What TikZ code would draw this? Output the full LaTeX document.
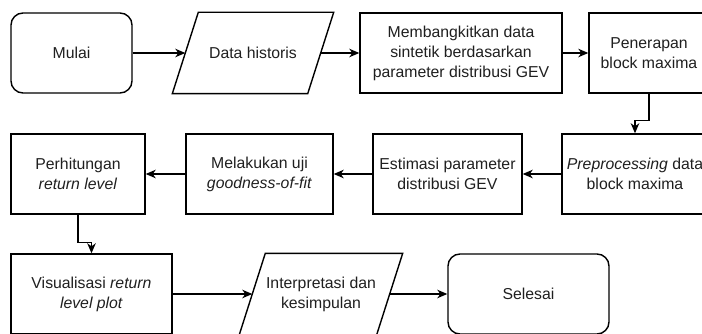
\documentclass[tikz,border=0pt]{standalone}
\usepackage{fontspec}
\setmainfont{Liberation Sans}
\usetikzlibrary{arrows.meta,calc}
\begin{document}
\begin{tikzpicture}[x=1pt,y=-1pt,line width=1.4pt,
  txt/.style={font=\fontsize{15.8}{20}\selectfont,align=center,text=black!88},
  box/.style={txt,draw,rectangle,minimum height=80pt,inner sep=0pt},
  term/.style={box,rounded corners=12pt},
  io/.style={txt,rectangle,minimum height=80pt,inner sep=0pt},
  arr/.style={-{Stealth[length=10pt,width=8.5pt,inset=3pt]}}]
\useasboundingbox (0,0) rectangle (702,334);
\clip (0,0) rectangle (702,334);
% row 1
\node[term,minimum width=121pt] (mulai) at (71.5,53) {Mulai};
\node[io,minimum width=134pt] (dh) at (253,53) {Data historis};
\node[box,minimum width=202pt] (gen) at (461,53) {Membangkitkan data\\sintetik berdasarkan\\parameter distribusi GEV};
\node[box,minimum width=120pt] (pbm) at (649,53) {Penerapan\\block maxima};
% row 2
\node[box,minimum width=146pt] (pre) at (635,174) {\textit{Preprocessing} data\\block maxima};
\node[box,minimum width=149pt] (est) at (447.5,174) {Estimasi parameter\\distribusi GEV};
\node[box,minimum width=147pt] (uji) at (259.5,174) {Melakukan uji\\\textit{goodness-of-fit}};
\node[box,minimum width=134pt] (hit) at (78,174) {Perhitungan\\\textit{return level}};
% row 3
\node[box,minimum width=161pt] (vis) at (91.5,294) {Visualisasi \textit{return}\\\textit{level plot}};
\node[io,minimum width=136pt] (interp) at (321,294) {Interpretasi dan\\kesimpulan};
\node[term,minimum width=161pt] (sel) at (528.5,294) {Selesai};
% parallelograms
\foreach \n in {dh,interp}{
  \draw[line join=miter] ([xshift=13pt]\n.north west) -- ([xshift=13pt]\n.north east)
     -- ([xshift=-13pt]\n.south east) -- ([xshift=-13pt]\n.south west) -- cycle;
}
% connectors
\draw[arr] (mulai) -- (dh);
\draw[arr] (dh) -- (gen);
\draw[arr] (gen) -- (pbm);
\draw[arr] (pbm.south) -- ++(0,27) -| (pre.north);
\draw[arr] (pre) -- (est);
\draw[arr] (est) -- (uji);
\draw[arr] (uji) -- (hit);
\draw[arr] (hit.south) -- ++(0,28) -| (vis.north);
\draw[arr] (vis) -- (interp);
\draw[arr] (interp) -- (sel);
\end{tikzpicture}
\end{document}
